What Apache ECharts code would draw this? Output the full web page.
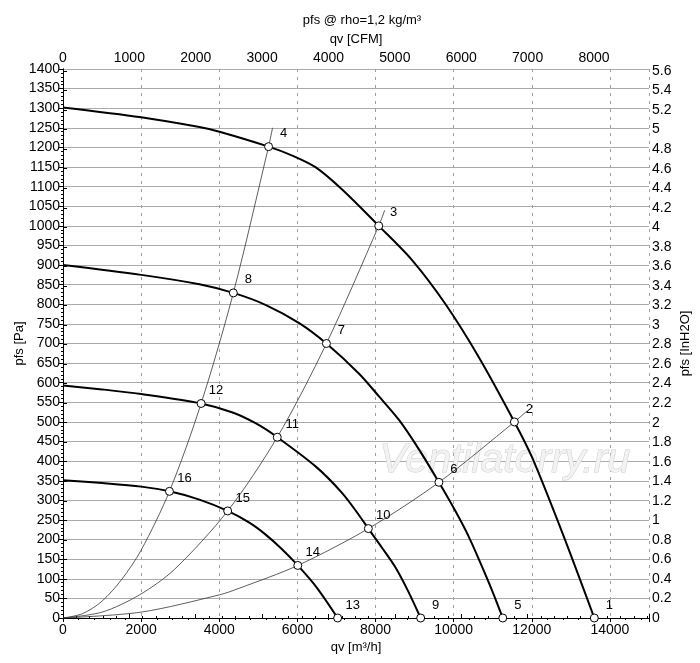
<!DOCTYPE html>
<html>
<head>
<meta charset="utf-8">
<title>pfs @ rho=1,2 kg/m³</title>
<style>
  html, body { margin: 0; padding: 0; background: #fff; }
  #main { width: 700px; height: 663px; }
</style>
</head>
<body>
<div id="main"></div>
<script src="https://cdn.jsdelivr.net/npm/echarts@6/dist/echarts.min.js"></script>
<script type="text/javascript">
// fan curves, qv [m3/h] / pfs [Pa]
var fan1Q = [0, 2000, 3492, 4005, 5262, 5900, 6472, 7152, 8082, 8940, 9793, 10644, 11555, 12005, 12790, 13600];
var fan1P = [1302, 1277, 1252, 1240, 1202, 1178, 1149, 1092, 1000, 912, 800, 665, 500, 410, 215, 0];

var fan2Q = [0, 2002, 3492, 4360, 5195, 6046, 6743, 7579, 8089, 8600, 9111, 9622, 10048, 10388, 10687, 10984, 11257];
var fan2P = [900, 875, 851, 829, 798, 752, 700, 623, 565, 505, 430, 346, 272, 207, 140, 70, 0];

var fan3Q = [0, 1000, 2002, 3535, 4342, 4940, 5484, 6473, 7152, 7578, 7816, 8174, 8516, 8856, 9155];
var fan3P = [593, 583, 571, 547, 524, 496, 461, 386, 318, 262, 228, 178, 128, 64, 0];

var fan4Q = [0, 1000, 2002, 2725, 3492, 4215, 4770, 5195, 5600, 6010, 6500, 7030];
var fan4P = [351, 344, 335, 323, 302, 273, 243, 212, 176, 134, 77, 0];

// system curves through the operating points
var sys1Q = [0, 500, 1000, 1500, 2000, 2725, 3535, 4360, 5262, 5364];
var sys1P = [0, 11, 43, 98, 173, 323, 547, 829, 1202, 1250];

var sys2Q = [0, 1000, 1959, 2853, 4215, 5484, 6743, 8082, 8235];
var sys2P = [0, 15, 59, 124, 273, 461, 700, 1000, 1040];

var sys3Q = [0, 2000, 4003, 4515, 6010, 7816, 9622, 11555, 11877];
var sys3P = [0, 15, 59, 76, 134, 228, 346, 500, 528];

// numbered points
var ptName = ['1', '2', '3', '4', '5', '6', '7', '8', '9', '10', '11', '12', '13', '14', '15', '16'];
var ptQ = [13600, 11555, 8082, 5262, 11257, 9622, 6743, 4360, 9155, 7816, 5484, 3535, 7030, 6010, 4215, 2725];
var ptP = [0, 500, 1000, 1202, 0, 346, 700, 829, 0, 228, 461, 547, 0, 134, 273, 323];

var M3H_PER_CFM = 1.69901;
var PA_PER_INH2O = 249.089;
var qMax = 15000, pMax = 1400;

var FONT = 'Liberation Sans, Arial, sans-serif';

function pairs(xs, ys) {
  var out = [];
  for (var i = 0; i < xs.length; i++) out.push([xs[i], ys[i]]);
  return out;
}

function fanLine(xs, ys) {
  return {
    type: 'line', data: pairs(xs, ys), xAxisIndex: 0, yAxisIndex: 0,
    showSymbol: false, smooth: 0.3, silent: true,
    lineStyle: { color: '#000', width: 2 }, z: 4
  };
}

function sysLine(xs, ys) {
  return {
    type: 'line', data: pairs(xs, ys), xAxisIndex: 0, yAxisIndex: 0,
    showSymbol: false, smooth: 0.3, silent: true,
    lineStyle: { color: '#333', width: 0.8 }, z: 3
  };
}

function plain(v) { return String(v); }

var axisCommon = {
  axisLine: { show: true, lineStyle: { color: '#000', width: 1 } },
  axisTick: { show: true, length: 4, lineStyle: { color: '#000' } },
  minorTick: { show: true, splitNumber: 5, length: 2, lineStyle: { color: '#000' } },
  nameMoveOverlap: false,
  nameTextStyle: { color: '#000', fontSize: 13, fontFamily: FONT }
};

var myChart = echarts.init(document.getElementById('main'));

var points = [];
for (var i = 0; i < ptQ.length; i++) {
  points.push({ value: [ptQ[i], ptP[i]], name: ptName[i] });
}

option = {
  animation: false,
  backgroundColor: '#fff',
  title: {
    text: 'pfs @ rho=1,2 kg/m³',
    left: 357, top: 9, textAlign: 'center',
    textStyle: { color: '#000', fontSize: 13, fontWeight: 'normal', fontFamily: FONT }
  },
  grid: { left: 63, right: 49, top: 69, bottom: 45 },
  graphic: [{
    type: 'text', left: 379, top: 440, z: 1, silent: true,
    style: {
      text: 'Ventilatorry.ru',
      font: 'italic 41px ' + FONT,
      fill: '#f2f2f2', stroke: '#cdcdcd', lineWidth: 1
    }
  }],
  xAxis: [
    Object.assign({}, axisCommon, {
      type: 'value', position: 'bottom', min: 0, max: qMax, interval: 2000,
      name: 'qv [m³/h]', nameLocation: 'middle', nameGap: 23,
      axisLabel: { color: '#000', fontSize: 14, fontFamily: FONT, margin: 5, showMaxLabel: false, formatter: plain },
      splitLine: { show: true, lineStyle: { color: '#a0a0a0', type: [3, 5], width: 1 } }
    }),
    Object.assign({}, axisCommon, {
      type: 'value', position: 'top', min: 0, max: qMax / M3H_PER_CFM, interval: 1000,
      name: 'qv [CFM]', nameLocation: 'middle', nameGap: 23,
      axisLabel: { color: '#000', fontSize: 14, fontFamily: FONT, margin: 4, showMaxLabel: false, formatter: plain },
      splitLine: { show: false }
    })
  ],
  yAxis: [
    Object.assign({}, axisCommon, {
      type: 'value', position: 'left', min: 0, max: pMax, interval: 50,
      name: 'pfs [Pa]', nameLocation: 'middle', nameGap: 37, nameRotate: 90,
      axisLabel: { color: '#000', fontSize: 14, fontFamily: FONT, margin: 3, formatter: plain },
      splitLine: { show: true, lineStyle: { color: '#aaaaaa', width: 1 } }
    }),
    Object.assign({}, axisCommon, {
      type: 'value', position: 'right', min: 0, max: pMax / PA_PER_INH2O, interval: 0.2,
      name: 'pfs [InH2O]', nameLocation: 'middle', nameGap: 30, nameRotate: 90,
      minorTick: { show: false },
      axisLabel: {
        color: '#000', fontSize: 14, fontFamily: FONT, margin: 3, showMaxLabel: false,
        formatter: function (v) { return String(parseFloat(v.toFixed(1))); }
      },
      splitLine: { show: false }
    })
  ],
  series: [
    sysLine(sys1Q, sys1P),
    sysLine(sys2Q, sys2P),
    sysLine(sys3Q, sys3P),
    fanLine(fan1Q, fan1P),
    fanLine(fan2Q, fan2P),
    fanLine(fan3Q, fan3P),
    fanLine(fan4Q, fan4P),
    {
      type: 'scatter', data: points, xAxisIndex: 0, yAxisIndex: 0,
      symbol: 'circle', symbolSize: 8, silent: true, z: 5,
      itemStyle: { color: '#fff', borderColor: '#000', borderWidth: 1, opacity: 1 },
      label: {
        show: true, position: 'inside', offset: [15, -13],
        formatter: '{b}', color: '#000', fontSize: 13, fontFamily: FONT,
        textBorderWidth: 0
      }
    }
  ]
};

myChart.setOption(option);
</script>
</body>
</html>
